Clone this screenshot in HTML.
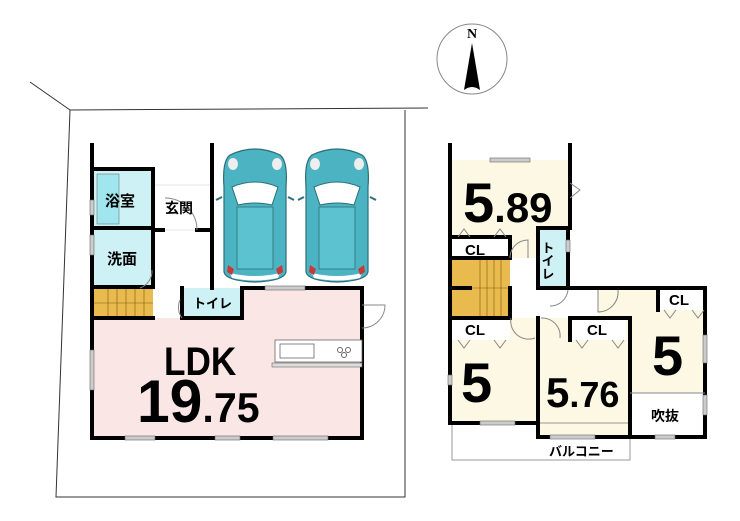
<!DOCTYPE html>
<html><head><meta charset="utf-8"><style>
html,body{margin:0;padding:0;background:#fff;}
svg{display:block;}
text{font-family:"Liberation Sans","Noto Sans CJK JP",sans-serif;font-weight:bold;fill:#000;}
</style></head><body>
<svg width="740" height="521" viewBox="0 0 740 521" xmlns="http://www.w3.org/2000/svg">
<defs>
<g id="car">
<path d="M8,8 Q33,-4 58,8 Q66,14 64,40 L64,125 Q62,134 33,135 Q4,134 2,125 L2,40 Q0,14 8,8Z" fill="#4cb3c2" stroke="#2a6f7a" stroke-width="1.2"/>
<path d="M10,40 Q33,30 56,40 L50,58 Q33,54 16,58Z" fill="#fff" stroke="#2a6f7a" stroke-width="1"/>
<rect x="15" y="60" width="36" height="62" fill="#5cc2cf" stroke="#2a6f7a" stroke-width="0.8"/>
<path d="M8,126 Q33,132 58,126 L56,131 Q33,136 10,131Z" fill="#fff"/>
<path d="M6,118 l6,4 -2,6 -5,-3Z M60,118 l-6,4 2,6 5,-3Z" fill="#c83a3a"/>
<ellipse cx="11" cy="17" rx="5" ry="6" fill="#eee"/><ellipse cx="55" cy="17" rx="5" ry="6" fill="#eee"/>
<path d="M0,50 l-6,3 M66,50 l6,3" stroke="#2a6f7a" stroke-width="2"/>
</g>
</defs>

<circle cx="472" cy="59" r="35" fill="#fff" stroke="#888" stroke-width="1"/>
<text x="472" y="38" font-size="14" text-anchor="middle" style="font-family:'Liberation Serif',serif">N</text>
<path d="M472,43 L480,90 Q472,84 464,90Z" fill="#000"/>

<g stroke="#333" stroke-width="1" fill="none">
<path d="M30,82 L70,110 L56,497 L405,497 L405,110"/>
<path d="M70,110 L428,108"/>
</g>

<rect x="92" y="288" width="270" height="150" fill="#fbe6e6"/>
<rect x="92" y="169" width="61" height="118" fill="#cdf1f5"/>
<rect x="97" y="174" width="22" height="50" fill="#9fe6ee" stroke="#777" stroke-width="0.6"/>
<rect x="92" y="287" width="61" height="31" fill="#e9bb4f"/>
<g stroke="#7a5a10" stroke-width="0.6"><path d="M108,288v30M117,288v30M126,288v30M135,288v30M144,288v30M92,303h61"/></g>
<rect x="153" y="287" width="29" height="31" fill="#fff"/>
<rect x="182" y="288" width="60" height="30" fill="#cdf1f5"/>
<rect x="153" y="230" width="59" height="57" fill="#fff"/>
<rect x="153" y="185" width="59" height="45" fill="#fff" stroke="#ccc" stroke-width="0.5"/>

<g stroke="#000" stroke-width="4" fill="none" stroke-linecap="square">
<path d="M92,145 L92,438 L362,438 L362,288 L242,288"/>
<path d="M212,145 L212,288"/>
<path d="M92,169 L153,169 L153,287 M92,228 L153,228 M92,287 L153,287 M92,318 L153,318"/>
<path d="M182,288 L182,318 L242,318 L242,288"/>
<path d="M153,230 L163,230 M197,230 L212,230"/>
</g>
<g stroke="#888" stroke-width="1" fill="none">
<path d="M165,198 A32,32 0 0 1 197,230"/>
<path d="M362,305 L385,305 A23,23 0 0 1 362,328"/>
<path d="M180,300 A18,18 0 0 0 182,318"/>
<path d="M152,270 A18,18 0 0 1 140,288"/>
</g>
<rect x="275" y="340" width="87" height="22" fill="#fff" stroke="#666" stroke-width="0.8"/>
<rect x="280" y="344" width="34" height="14" fill="#fff" stroke="#666" stroke-width="0.8"/>
<circle cx="340" cy="350" r="2.5" fill="none" stroke="#666"/><circle cx="348" cy="350" r="2.5" fill="none" stroke="#666"/><circle cx="344" cy="355" r="2.5" fill="none" stroke="#666"/>
<rect x="272" y="363" width="90" height="4" fill="#ddd" stroke="#666" stroke-width="0.6"/>
<g fill="#ccc" stroke="#666" stroke-width="0.6">
<rect x="125" y="436" width="30" height="4"/><rect x="215" y="436" width="25" height="4"/><rect x="273" y="436" width="55" height="4"/>
<rect x="90" y="350" width="4" height="40"/><rect x="90" y="200" width="4" height="15"/><rect x="90" y="235" width="4" height="20"/>
<rect x="265" y="286" width="40" height="4"/>
</g>

<use href="#car" x="222" y="147"/>
<use href="#car" x="304" y="147"/>

<text x="105" y="206" font-size="15">浴室</text>
<text x="165" y="213" font-size="14">玄関</text>
<text x="107" y="264" font-size="15">洗面</text>
<text x="193" y="308" font-size="13">トイレ</text>
<text x="164" y="375" font-size="40" transform="translate(164 0) scale(0.88 1) translate(-164 0)">LDK</text>
<text x="137" y="422" font-size="60" transform="translate(137 0) scale(0.98 1) translate(-137 0)">19<tspan font-size="42">.75</tspan></text>

<rect x="450" y="160" width="120" height="98" fill="#fcf8e3"/>
<rect x="450" y="318" width="88" height="105" fill="#fcf8e3"/>
<rect x="538" y="318" width="92" height="119" fill="#fcf8e3"/>
<rect x="598" y="288" width="107" height="105" fill="#fcf8e3"/>
<rect x="630" y="393" width="75" height="44" fill="#fff"/>
<rect x="538" y="228" width="30" height="60" fill="#cdf1f5"/>
<rect x="450" y="258" width="60" height="60" fill="#e9bb4f"/>
<g stroke="#7a5a10" stroke-width="0.6"><path d="M480,258v60M487,258v60M494,258v60M501,258v60M450,288h60"/></g>
<rect x="450" y="237" width="60" height="21" fill="#fff"/>
<rect x="450" y="318" width="60" height="22" fill="#fff"/>
<rect x="570" y="318" width="56" height="22" fill="#fff"/>
<rect x="658" y="290" width="47" height="20" fill="#fff"/>
<rect x="452" y="423" width="178" height="37" fill="none" stroke="#999" stroke-width="1"/>

<g stroke="#000" stroke-width="4" fill="none" stroke-linecap="square">
<path d="M450,145 L450,423 L538,423"/>
<path d="M570,145 L570,228 L538,228 L538,288 L568,288 L568,228"/>
<path d="M568,288 L705,288 L705,437 L538,437 L538,318"/>
<path d="M450,258 L510,258 L510,237 M450,237 L510,237"/>
<path d="M450,318 L510,318 M510,288 L510,318 M450,288 L470,288"/>
<path d="M570,318 L630,318 L630,437 M570,318 L570,340"/>
<path d="M658,288 L658,310"/>
</g>
<g stroke="#888" stroke-width="1" fill="none">
<path d="M630,393 L705,393"/>
<path d="M510,258 A18,18 0 0 1 528,240 L528,258"/>
<path d="M511,318 A18,18 0 0 0 535,338"/>
<path d="M541,318 A18,18 0 0 1 560,338"/>
<path d="M568,290 A18,18 0 0 1 550,306"/>
<path d="M598,290 L598,312 A20,20 0 0 0 618,290"/>
<path d="M570,183 L580,190 L570,198"/>
<path d="M458,237 l6,-8 6,8 M494,237 l6,-8 6,8 M458,340 l6,8 6,-8 M494,340 l6,8 6,-8 M576,340 l6,8 6,-8 M612,340 l6,8 6,-8 M664,310 l6,8 6,-8 M692,310 l6,8 6,-8"/>
</g>
<g fill="#ccc" stroke="#666" stroke-width="0.6">
<rect x="490" y="158" width="40" height="4"/><rect x="480" y="421" width="35" height="4"/><rect x="550" y="435" width="45" height="4"/><rect x="655" y="435" width="20" height="4"/>
<rect x="448" y="375" width="4" height="10"/><rect x="703" y="335" width="4" height="28"/><rect x="703" y="395" width="4" height="20"/><rect x="566" y="240" width="4" height="12"/>
</g>

<text x="463" y="222" font-size="56">5<tspan font-size="42">.89</tspan></text>
<text x="465" y="255" font-size="15">CL</text>
<text x="465" y="335" font-size="15">CL</text>
<text x="587" y="335" font-size="15">CL</text>
<text x="669" y="305" font-size="15">CL</text>
<text x="547" y="241" font-size="13" writing-mode="tb">トイレ</text>
<text x="461" y="402" font-size="56">5</text>
<text x="652" y="375" font-size="56">5</text>
<text x="546" y="407" font-size="42">5<tspan font-size="36">.76</tspan></text>
<text x="651" y="421" font-size="14">吹抜</text>
<text x="549" y="456" font-size="13">バルコニー</text>
</svg>
</body></html>
